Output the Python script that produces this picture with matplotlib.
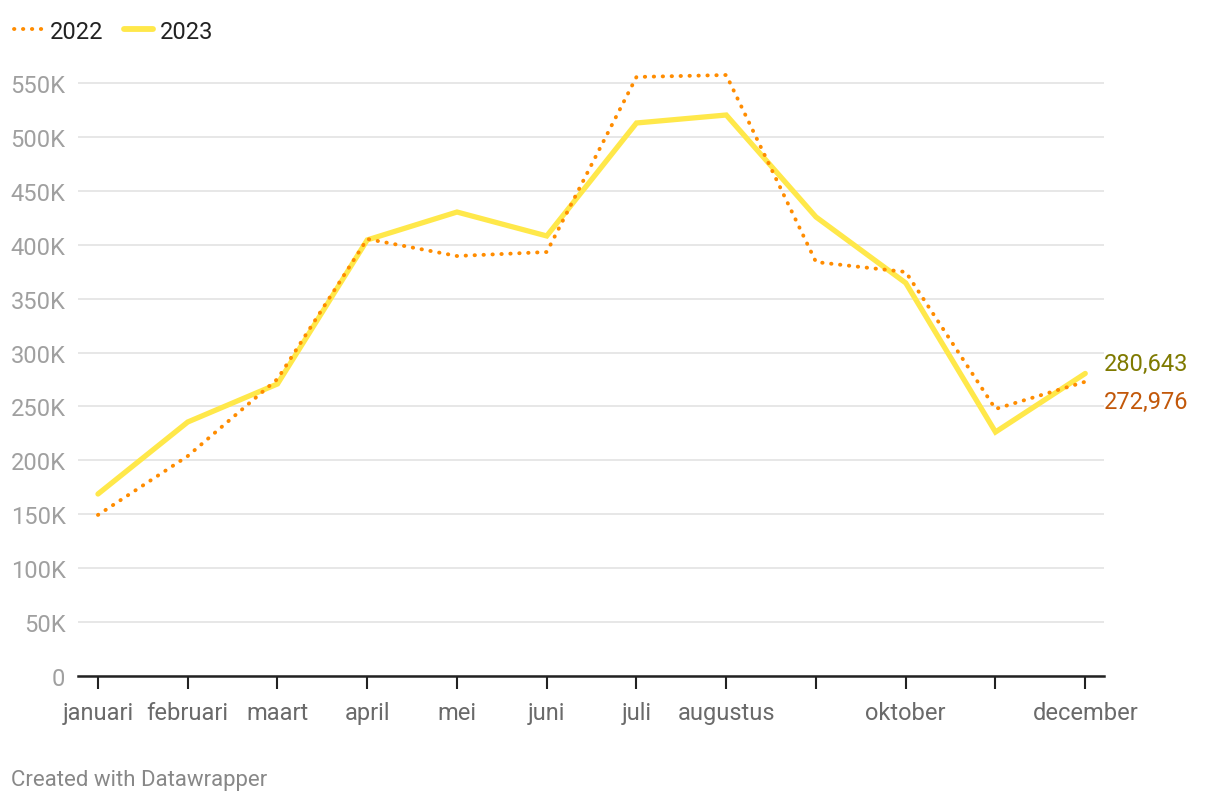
import numpy as np
import matplotlib.pyplot as plt
from matplotlib.lines import Line2D
from matplotlib.ticker import FuncFormatter

plt.rcParams['font.family'] = ['Roboto', 'DejaVu Sans']

months = ['januari', 'februari', 'maart', 'april', 'mei', 'juni', 'juli',
          'augustus', 'september', 'oktober', 'november', 'december']
shown_labels = ['januari', 'februari', 'maart', 'april', 'mei', 'juni', 'juli',
                'augustus', '', 'oktober', '', 'december']

visitors_2022 = [149400, 204000, 275500, 405400, 389600, 393300, 555700,
                 557500, 384000, 374800, 247700, 272976]
visitors_2023 = [168800, 235600, 270900, 404500, 430400, 408200, 513000,
                 520400, 425800, 364600, 226300, 280643]

c22 = '#ff8c00'
c23 = '#ffe84a'
dots = (0, (0.1, 2.2))

fig = plt.figure(figsize=(12.2, 8.04), dpi=100)
ax = fig.add_axes([0.0639, 0.158, 0.905 - 0.0639, 0.9088 - 0.158])

x = np.arange(len(months))
ax.plot(x, visitors_2023, color=c23, lw=3.8, solid_capstyle='round',
        solid_joinstyle='miter', zorder=3)
ax.plot(x, visitors_2022, color=c22, lw=2.8, linestyle=dots,
        dash_capstyle='round', zorder=4)

ax.set_xlim(-0.223, 11.21)
ax.set_ylim(0, 560000)
ax.set_yticks(np.arange(0, 550001, 50000))
ax.yaxis.set_major_formatter(FuncFormatter(lambda v, p: '0' if v == 0 else f'{int(v/1000)}K'))
ax.grid(axis='y', color='#e0e0e0', lw=1.1, zorder=0)
ax.tick_params(axis='y', length=0, pad=9, labelsize=17, labelcolor='#a0a0a0')

ax.set_xticks(x)
ax.set_xticklabels(shown_labels)
ax.tick_params(axis='x', length=9, width=1.5, color='#222222', direction='out',
               pad=9, labelsize=17, labelcolor='#6a6a6a')

for s in ['top', 'right', 'left']:
    ax.spines[s].set_visible(False)
ax.spines['bottom'].set_color('#222222')
ax.spines['bottom'].set_linewidth(1.8)
ax.set_axisbelow(True)

# end labels
ax.annotate(f'{visitors_2023[-1]:,}', xy=(x[-1], visitors_2023[-1]),
            xytext=(13.5, 7.5), textcoords='offset points', fontsize=17,
            color='#7f7a00', va='center', ha='left', annotation_clip=False)
ax.annotate(f'{visitors_2022[-1]:,}', xy=(x[-1], visitors_2022[-1]),
            xytext=(13.5, -14), textcoords='offset points', fontsize=17,
            color='#c2580a', va='center', ha='left', annotation_clip=False)

handles = [Line2D([], [], color=c22, lw=2.8, linestyle=dots, dash_capstyle='round'),
           Line2D([], [], color=c23, lw=4.2, solid_capstyle='round')]
fig.legend(handles, ['2022', '2023'], loc='upper left', bbox_to_anchor=(-0.002, 0.995),
           ncol=2, frameon=False, fontsize=17, handlelength=1.2, handletextpad=0.3,
           columnspacing=0.9, labelcolor='#222222', borderaxespad=0.3)

fig.text(0.009, 0.023, 'Created with Datawrapper', fontsize=16, color='#888888')

fig.savefig('out.png', dpi=100)
